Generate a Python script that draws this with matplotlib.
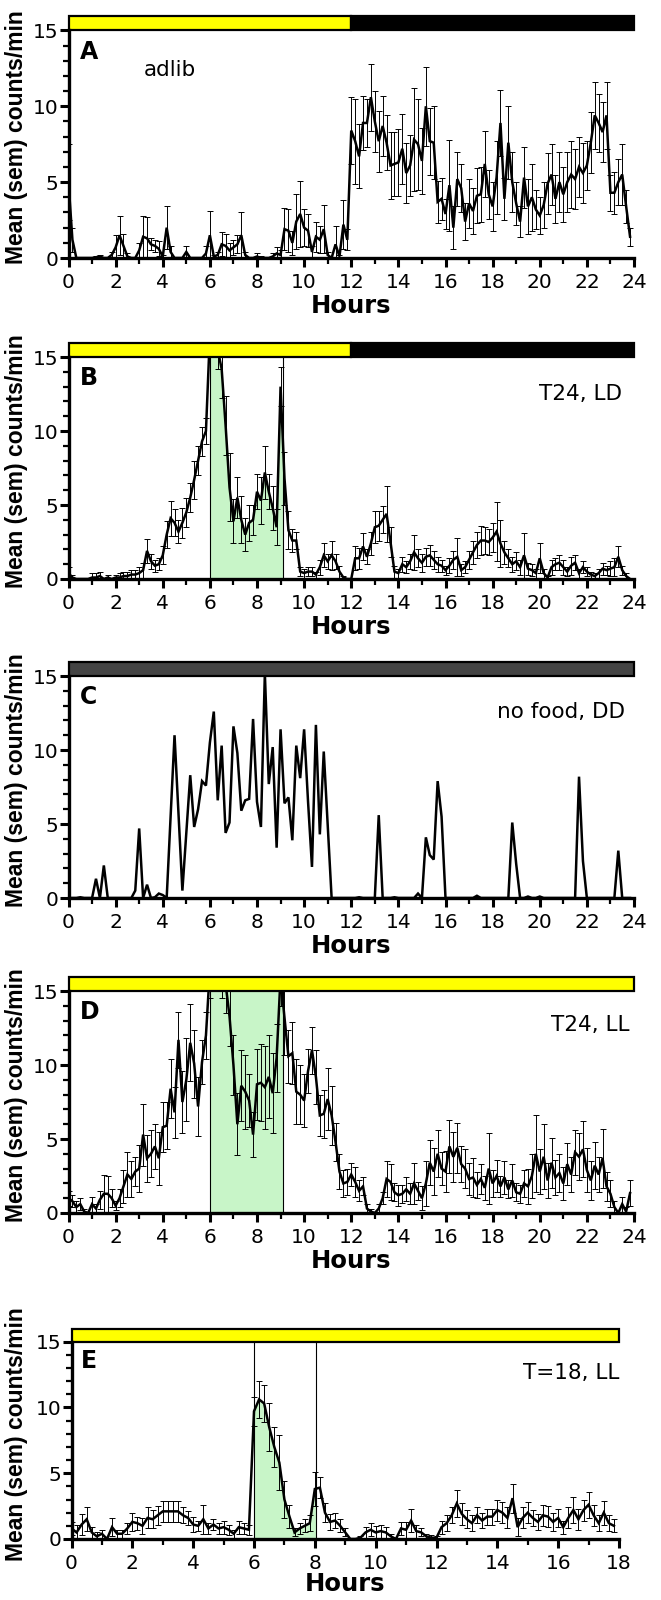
import numpy as np
import matplotlib
matplotlib.use('Agg')
import matplotlib.pyplot as plt
from matplotlib.patches import Rectangle
from matplotlib.ticker import MultipleLocator

plt.rcParams['font.family'] = ['DejaVu Sans']

# 10 min bins
hours_24 = np.arange(144) / 6
hours_18 = np.arange(108) / 6

# A: adlib, LD
adlib_mean = [5.0, 1.2, 0, 0, 0, 0,
              0, 0.05, 0.1, 0, 0, 0.2,
              0.7, 1.5, 0.8, 0.1, 0, 0,
              0.5, 1.4, 1.3, 0.9, 0.8, 0.6,
              0.1, 2.0, 0.4, 0, 0, 0,
              0.4, 0, 0, 0, 0, 0.3,
              1.5, 0.1, 0.2, 0.9, 0.8, 0.5,
              0.7, 0.9, 1.5, 0.2, 0, 0,
              0.1, 0, 0, 0, 0.1, 0.3,
              0.2, 1.9, 1.8, 1.0, 2.4, 2.9,
              2.0, 1.8, 0.4, 1.4, 1.2, 1.9,
              0.2, 0, 0.9, 0.1, 2.2, 1.2,
              8.4, 7.7, 6.7, 8.9, 8.9, 10.6,
              9.0, 7.7, 8.7, 7.6, 6.1, 6.2,
              6.3, 7.2, 5.6, 6.1, 7.8, 7.5,
              6.4, 10.0, 7.7, 7.6, 3.7, 3.9,
              2.9, 4.8, 2.0, 5.2, 4.6, 2.4,
              3.6, 3.1, 4.1, 4.2, 6.2, 4.2,
              3.4, 5.3, 8.9, 3.9, 7.6, 5.0,
              3.6, 2.4, 5.3, 3.4, 4.0, 3.2,
              2.8, 3.5, 4.9, 5.5, 3.9, 5.0,
              4.2, 5.0, 5.5, 5.2, 6.0, 5.6,
              6.1, 7.6, 9.4, 8.9, 8.3, 9.4,
              4.3, 4.3, 5.0, 5.5, 3.4, 1.4]
adlib_sem = [2.5, 0.8, 0, 0, 0, 0,
             0, 0.1, 0.1, 0, 0, 0.2,
             0.8, 1.3, 0.8, 0.2, 0, 0,
             0.5, 1.4, 1.4, 0.4, 0.4, 0.5,
             0.1, 1.4, 0.4, 0, 0, 0,
             0.4, 0, 0, 0, 0, 0.5,
             1.6, 0.1, 0.2, 0.8, 0.8, 0.5,
             0.5, 0.6, 1.5, 0.2, 0, 0,
             0.2, 0.1, 0, 0, 0.2, 0.4,
             0.3, 1.4, 1.4, 0.8, 1.8, 2.2,
             1.2, 1.1, 0.4, 1.0, 0.9, 1.6,
             0.2, 0, 1.2, 0.1, 1.6, 0.7,
             2.2, 2.8, 2.1, 1.8, 1.6, 2.2,
             2.0, 2.0, 2.0, 1.8, 2.2, 2.1,
             2.2, 2.3, 2.0, 2.0, 3.4, 3.0,
             2.2, 2.6, 2.2, 2.4, 1.4, 1.4,
             1.0, 3.0, 1.4, 1.8, 1.6, 1.2,
             1.6, 1.5, 1.8, 1.8, 2.2, 1.6,
             1.6, 2.4, 2.2, 1.4, 2.4, 2.0,
             1.4, 1.0, 2.0, 1.8, 2.2, 1.3,
             1.2, 1.5, 2.0, 2.0, 1.6, 2.0,
             1.8, 2.0, 2.2, 2.0, 2.0, 2.0,
             1.6, 2.0, 2.2, 1.9, 2.0, 2.2,
             1.2, 1.4, 1.5, 2.0, 1.1, 0.6]

# B: T24 restricted feeding, LD
t24ld_mean = [0.4, 0.1, 0, 0, 0, 0,
              0.1, 0.1, 0.2, 0, 0.1, 0,
              0.1, 0.1, 0.2, 0.2, 0.3, 0.3,
              0.4, 0.6, 1.9, 1.2, 0.9, 1.0,
              1.6, 3.0, 4.1, 3.8, 3.2, 3.8,
              4.5, 5.5, 6.7, 8.0, 9.3, 10.0,
              16.5, 16.5, 15.5, 14.2, 10.4, 6.2,
              3.9, 5.5, 4.0, 3.0, 3.8, 4.0,
              5.9, 5.3, 7.2, 5.9, 4.8, 3.5,
              13.0, 6.8, 3.3, 2.6, 2.6, 0.5,
              0.4, 0.5, 0.5, 0.3, 0.8, 1.6,
              1.2, 1.6, 1.2, 0.5, 0.1, 0,
              0, 1.4, 1.4, 2.2, 1.5, 2.4,
              3.5, 3.6, 4.0, 4.4, 2.5, 0.5,
              0.4, 1.0, 0.8, 1.2, 1.8, 1.4,
              1.1, 1.5, 1.6, 1.3, 1.0, 0.9,
              0.6, 0.9, 1.3, 1.5, 0.6, 0.8,
              1.3, 1.8, 2.3, 2.6, 2.6, 2.5,
              2.8, 3.2, 2.4, 1.8, 1.4, 1.0,
              1.2, 0.8, 1.6, 0.7, 0.6, 0.4,
              1.4, 0.4, 0.1, 0.8, 1.0, 1.1,
              0.8, 0.5, 0.9, 1.1, 0.4, 0.8,
              0.5, 0.3, 0.2, 0.4, 0.7, 0.6,
              0.7, 0.8, 1.5, 0.6, 0.2, 0]
t24ld_sem = [0.4, 0.2, 0, 0, 0, 0,
             0.3, 0.3, 0.3, 0.1, 0.2, 0.1,
             0.2, 0.3, 0.3, 0.3, 0.3, 0.3,
             0.4, 0.5, 0.8, 0.5, 0.4, 0.4,
             0.6, 0.9, 1.2, 0.9, 0.8, 1.0,
             1.0, 1.0, 1.3, 1.0, 1.0, 0.9,
             1.5, 1.5, 1.3, 2.0, 2.0, 2.3,
             1.5, 1.4, 1.6, 1.1, 1.2, 1.0,
             1.2, 1.6, 1.8, 1.2, 1.5, 1.2,
             1.3, 1.8, 1.3, 0.8, 0.6, 0.3,
             0.3, 0.3, 0.3, 0.2, 0.5, 0.8,
             0.5, 1.0, 0.5, 0.4, 0.1, 0,
             0, 0.8, 0.7, 0.9, 0.5, 0.8,
             1.1, 1.0, 0.9, 1.9, 1.0, 0.4,
             0.3, 0.5, 0.4, 0.5, 1.2, 0.6,
             0.6, 0.6, 0.7, 0.6, 0.5, 0.4,
             0.3, 0.5, 0.6, 1.3, 0.4, 0.4,
             0.6, 0.8, 0.9, 1.0, 0.9, 0.9,
             1.0, 2.0, 1.6, 0.8, 0.6, 0.5,
             0.6, 0.5, 1.5, 0.4, 0.4, 0.3,
             1.0, 0.3, 0.1, 0.5, 0.4, 0.5,
             0.5, 0.3, 0.6, 0.5, 0.3, 0.4,
             0.3, 0.2, 0.2, 0.3, 0.4, 0.3,
             0.5, 0.6, 0.7, 0.3, 0.2, 0]

# C: no food, DD (single trace, no sem)
nofood_mean = [0, 0, 0, 0.05, 0, 0,
               0, 1.3, 0, 2.2, 0, 0,
               0, 0, 0, 0, 0, 0.5,
               4.7, 0, 0.9, 0, 0.05, 0.3,
               0.2, 0, 5.5, 11.0, 5.7, 0.5,
               4.4, 8.3, 4.8, 6.0, 7.9, 7.6,
               10.5, 12.6, 6.6, 10.3, 4.4, 5.1,
               11.6, 9.8, 5.9, 6.6, 6.7, 12.1,
               6.5, 4.8, 15.2, 7.7, 10.2, 3.4,
               11.4, 6.4, 6.8, 3.9, 10.3, 8.1,
               11.4, 6.5, 2.1, 11.7, 4.3, 9.9,
               4.9, 0, 0, 0, 0, 0,
               0, 0, 0.05, 0, 0, 0,
               0, 5.6, 0, 0, 0, 0.05,
               0, 0, 0, 0, 0, 0.3,
               0, 4.1, 2.9, 2.6, 7.9, 5.5,
               0, 0, 0, 0, 0, 0,
               0, 0, 0.15, 0, 0, 0,
               0, 0, 0, 0, 0, 5.1,
               2.3, 0, 0, 0.1, 0, 0,
               0.1, 0, 0, 0, 0, 0,
               0, 0, 0, 0, 8.2, 2.5,
               0, 0, 0, 0, 0, 0,
               0, 0, 3.2, 0, 0, 0]

# D: T24 restricted feeding, LL
t24ll_mean = [1.0, 0.8, 0.4, 0.6, 0.1, 0.0,
              0.6, 0.3, 0.9, 1.3, 1.3, 1.0,
              0.5, 1.0, 1.8, 2.6, 2.3, 2.8,
              3.0, 5.3, 3.7, 4.0, 4.5, 3.7,
              5.8, 5.9, 8.4, 6.8, 11.7, 7.5,
              9.0, 11.5, 10.1, 7.2, 10.2, 12.0,
              16.5, 17.0, 17.0, 16.5, 15.5, 13.3,
              10.0, 6.0, 8.6, 8.2, 7.6, 5.3,
              8.7, 8.8, 8.5, 9.2, 8.1, 10.5,
              16.0, 13.2, 10.6, 10.8, 8.2, 8.0,
              7.6, 9.6, 11.0, 9.2, 6.6, 6.7,
              7.7, 6.6, 4.8, 2.8, 2.0, 2.1,
              2.6, 2.1, 1.5, 1.8, 0.3, 0.1,
              0.0, 0.3, 1.0, 2.3, 2.1, 1.4,
              1.2, 1.3, 1.6, 1.3, 2.0, 1.5,
              1.0, 2.0, 3.4, 2.8, 4.0, 3.0,
              2.8, 4.5, 3.8, 4.4, 3.3, 3.0,
              2.3, 2.4, 1.9, 2.3, 1.7, 3.0,
              2.0, 2.5, 1.8, 2.4, 1.6, 2.2,
              1.4, 1.3, 2.0, 1.8, 2.5, 4.0,
              2.8, 3.8, 2.2, 3.4, 2.4, 2.7,
              2.0, 3.3, 2.6, 4.1, 3.8, 4.3,
              2.9, 2.2, 3.2, 2.6, 3.7, 1.8,
              1.3, 0.4, 0.0, 0.6, 0.1, 1.35]
t24ll_sem = [0.5, 0.4, 0.4, 0.4, 0.2, 0.1,
             0.5, 0.3, 0.6, 1.3, 1.2, 0.6,
             0.3, 0.6, 1.1, 1.5, 1.2, 1.0,
             1.6, 2.1, 1.6, 1.6, 1.5, 1.8,
             1.7, 1.6, 2.0, 1.7, 1.9, 2.1,
             2.8, 2.6, 2.3, 2.0, 1.5, 1.6,
             2.0, 2.0, 2.0, 2.0, 2.0, 2.0,
             2.0, 2.1, 2.4, 2.5, 1.8, 1.5,
             2.4, 2.6, 2.8, 2.8, 2.7, 2.3,
             2.0, 2.5, 1.8, 2.1, 2.2, 2.0,
             1.8, 1.5, 1.6, 1.8, 1.4, 1.6,
             2.1, 2.0, 1.3, 1.2, 0.9, 0.9,
             0.8, 1.0, 0.7, 0.6, 0.3, 0.2,
             0.1, 0.3, 0.4, 1.2, 1.2, 0.6,
             0.7, 0.6, 0.8, 0.7, 1.4, 0.6,
             0.8, 1.5, 1.5, 1.6, 1.6, 1.1,
             1.4, 1.8, 1.7, 1.7, 1.2, 1.3,
             1.1, 1.3, 0.9, 1.0, 0.8, 2.4,
             0.9, 1.1, 0.7, 1.1, 0.6, 1.1,
             0.6, 0.6, 0.9, 1.2, 1.5, 2.6,
             1.5, 2.2, 1.2, 1.7, 1.2, 1.3,
             1.1, 1.4, 1.2, 1.5, 1.6, 1.9,
             1.5, 1.3, 1.6, 1.2, 2.0, 1.0,
             0.9, 0.4, 0.1, 0.5, 0.3, 0.9]

# E: T=18 restricted feeding, LL
t18ll_mean = [0.8, 0.5, 1.1, 1.5, 0.5, 0.2,
              0.4, 0.0, 0.9, 0.4, 0.4, 0.8,
              1.3, 1.2, 1.0, 1.6, 1.5, 1.8,
              2.1, 2.1, 2.1, 2.1, 1.8, 1.6,
              1.1, 1.0, 1.5, 0.8, 1.1, 0.8,
              0.9, 0.7, 0.4, 0.9, 0.8, 0.7,
              9.7, 10.6, 10.3, 8.5, 7.0, 5.8,
              3.0, 1.7, 0.5, 0.8, 1.0, 1.2,
              3.8, 3.9, 2.0, 1.3, 1.4, 1.0,
              0.5, 0.0, 0.0, 0.1, 0.5, 0.7,
              0.5, 0.6, 0.5, 0.2, 0.0, 0.8,
              0.7, 1.4, 0.6, 0.5, 0.2, 0.1,
              0.1, 0.9, 1.2, 1.8, 2.7, 1.9,
              1.5, 1.2, 1.8, 1.4, 1.7, 1.7,
              2.2, 2.0, 1.6, 3.1, 0.9, 1.6,
              2.0, 1.6, 1.3, 1.8, 1.7, 1.3,
              1.6, 0.9, 1.6, 2.2, 1.5, 2.2,
              2.6, 1.8, 1.2, 2.0, 1.2, 1.0]
t18ll_sem = [0.5, 0.6, 0.8, 0.9, 0.4, 0.3,
             0.3, 0.1, 0.7, 0.3, 0.3, 0.4,
             0.7, 0.5, 0.6, 0.8, 0.7, 0.7,
             0.8, 0.8, 0.8, 0.8, 0.6, 0.5,
             0.6, 0.4, 1.1, 0.4, 0.4, 0.4,
             0.5, 0.4, 0.3, 0.5, 0.4, 0.4,
             1.1, 1.4, 1.4, 1.8, 1.5, 2.1,
             1.4, 0.9, 0.3, 0.4, 0.5, 0.6,
             1.3, 0.8, 0.7, 0.6, 0.6, 0.5,
             0.3, 0.0, 0.0, 0.1, 0.4, 0.5,
             0.5, 0.5, 0.4, 0.2, 0.1, 0.5,
             0.6, 0.9, 0.5, 0.3, 0.2, 0.2,
             0.1, 0.5, 0.6, 0.6, 1.0, 0.8,
             0.7, 0.6, 0.6, 0.6, 0.6, 0.6,
             0.8, 0.8, 0.8, 1.1, 0.7, 0.8,
             0.8, 0.6, 0.6, 0.8, 0.8, 0.7,
             0.7, 0.5, 0.8, 1.0, 0.8, 0.8,
             1.0, 0.8, 0.6, 0.9, 0.6, 0.5]

panel_letters = ['A', 'B', 'C', 'D', 'E']
panel_notes = ['adlib', 'T24, LD', 'no food, DD', 'T24, LL', 'T=18, LL']
# light bar segments: (start, end, colour)
light_bars = [[(0, 12, '#ffff00'), (12, 24, '#000000')],
              [(0, 12, '#ffff00'), (12, 24, '#000000')],
              [(0, 24, '#444444')],
              [(0, 24, '#ffff00')],
              [(0, 18, '#ffff00')]]
food_windows = [None, (6, 9.1), None, (6, 9.1), (6, 8.05)]

W, H = 661, 1600
fig = plt.figure(figsize=(W / 100, H / 100), dpi=100)

# pixel boxes: left, right, top (bar top), bottom (y = 0)
boxes = [(68.5, 634, 16, 258),
         (68.5, 634, 343, 579),
         (68.5, 634, 662, 898),
         (68.5, 634, 977, 1213),
         (71.5, 619, 1329, 1539)]

series = [(hours_24, adlib_mean, adlib_sem),
          (hours_24, t24ld_mean, t24ld_sem),
          (hours_24, nofood_mean, None),
          (hours_24, t24ll_mean, t24ll_sem),
          (hours_18, t18ll_mean, t18ll_sem)]

# note anchor (right edge unless adlib) in data coords
note_pos = [(3.2, 12.4), (23.5, 12.5), (23.6, 12.55), (23.8, 12.7), (18.0, 12.6)]

YTOP = 15.95
green = '#c8f5c8'

for i in range(5):
    x0, x1, ytop, ybot = boxes[i]
    ax = fig.add_axes([x0 / W, 1 - ybot / H, (x1 - x0) / W, (ybot - ytop) / H])
    t, mean, sem = series[i]
    mean = np.array(mean, dtype=float)
    xmax = 18 if i == 4 else 24

    win = food_windows[i]
    if win is not None:
        if i == 3:
            ax.fill_between([win[0], win[1]], 0, 15, color=green, lw=0, zorder=1)
        else:
            tt = np.linspace(win[0], win[1], 400)
            yy = np.minimum(np.interp(tt, t, mean), 15)
            ax.fill_between(tt, 0, yy, color=green, lw=0, zorder=1)
        for xv in win:
            ax.plot([xv, xv], [0, 15], color='black', lw=0.8, zorder=2)

    if sem is not None:
        sem = np.array(sem, dtype=float)
        keep = sem > 0
        ax.errorbar(t[keep], mean[keep], yerr=sem[keep], fmt='none', ecolor='black',
                    elinewidth=0.7, capsize=2.3, capthick=0.7, zorder=3)
    ax.plot(t, mean, color='black', lw=1.8, zorder=4, solid_joinstyle='miter')

    for (a, b, c) in light_bars[i]:
        ax.add_patch(Rectangle((a, 15), b - a, YTOP - 15, facecolor=c, edgecolor='black',
                               lw=1.6, zorder=6, clip_on=False))

    ax.set_xlim(0, xmax)
    ax.set_ylim(0, YTOP)
    ax.spines['top'].set_visible(False)
    ax.spines['right'].set_visible(False)
    for s in ['left', 'bottom']:
        ax.spines[s].set_linewidth(2.4)
        ax.spines[s].set_zorder(7)
    ax.spines['left'].set_bounds(0, 15)
    ax.xaxis.set_major_locator(MultipleLocator(2))
    ax.xaxis.set_minor_locator(MultipleLocator(1))
    ax.set_yticks([0, 5, 10, 15])
    ax.yaxis.set_minor_locator(MultipleLocator(1))
    ax.tick_params(which='major', length=6.5, width=2.2, labelsize=14.5)
    ax.tick_params(which='minor', length=4, width=1.6)
    ax.tick_params(axis='x', which='major', pad=4.5)
    ax.tick_params(axis='y', which='major', pad=1)

    h_px = ybot - ytop
    w_px = x1 - x0
    ax.text(0.5 * 24 / xmax if i < 4 else 0.3, 14.4, panel_letters[i], fontsize=17,
            fontweight='bold', ha='left', va='top')
    nx, ny = note_pos[i]
    ax.text(nx, ny, panel_notes[i], fontsize=15.5,
            ha='left' if i == 0 else 'right', va='center')

    ax.text(0.5, -(48 if i < 4 else 45) / h_px, 'Hours', transform=ax.transAxes,
            fontsize=17.5, fontweight='bold', ha='center', va='center')
    ax.text(-(x0 - 17) / w_px, 0.5, 'Mean (sem) counts/min', transform=ax.transAxes,
            fontsize=16.5, fontweight='bold', rotation=90, ha='center', va='center',
            family='Liberation Sans')

fig.savefig('out.png', dpi=100)
